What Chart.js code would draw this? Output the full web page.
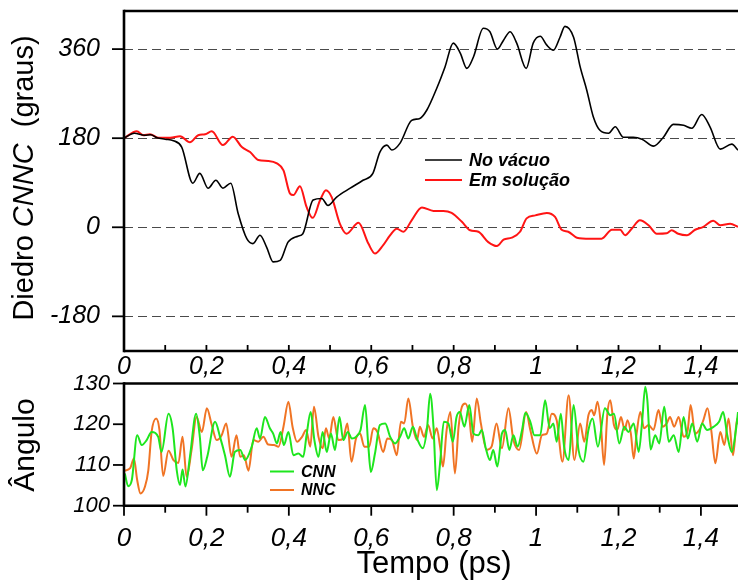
<!DOCTYPE html>
<html><head><meta charset="utf-8">
<script src="https://cdn.jsdelivr.net/npm/chart.js@4/dist/chart.umd.min.js"></script>
<style>
html,body{margin:0;padding:0;background:#fff;}
#wrap{position:relative;width:738px;height:581px;overflow:hidden;background:#fff;}
#c1{position:absolute;left:0;top:0;}
#c2{position:absolute;left:0;top:370px;}
</style></head><body>
<div id="wrap"><canvas id="c1" width="738" height="383"></canvas><canvas id="c2" width="738" height="211"></canvas></div>
<script>
// ---- Top panel: dihedral CNNC (graus) ----
const vacTime=[0,0.025,0.05,0.065,0.08,0.1,0.12,0.14,0.167,0.184,0.204,0.223,0.24,0.259,0.277,0.298,0.313,0.33,0.346,0.362,0.379,0.398,0.422,0.434,0.459,0.48,0.495,0.516,0.549,0.58,0.604,0.621,0.638,0.65,0.67,0.698,0.718,0.735,0.759,0.779,0.799,0.816,0.832,0.848,0.872,0.888,0.906,0.921,0.937,0.953,0.976,0.993,1.01,1.026,1.042,1.058,1.07,1.091,1.107,1.123,1.139,1.155,1.176,1.192,1.212,1.236,1.257,1.285,1.309,1.333,1.358,1.378,1.402,1.422,1.447,1.475,1.49];
const vacDeg=[180,190,186,187,181,178,175,162,89,109,79,95,79,89,28,-23,-33,-16,-40,-70,-67,-30,-18,-13,55,58,44,61,79,95,109,152,166,156,170,216,220,237,281,324,372,352,321,344,402,395,360,378,395,372,321,372,386,368,358,384,406,384,324,277,223,196,190,203,182,182,178,164,182,208,206,200,228,203,158,168,156];
const solTime=[0,0.031,0.047,0.063,0.083,0.112,0.136,0.16,0.18,0.197,0.213,0.24,0.264,0.286,0.306,0.326,0.35,0.371,0.387,0.403,0.411,0.427,0.443,0.458,0.476,0.49,0.504,0.524,0.54,0.569,0.593,0.609,0.629,0.646,0.662,0.678,0.698,0.723,0.751,0.775,0.795,0.82,0.84,0.86,0.884,0.905,0.921,0.941,0.961,0.977,0.998,1.026,1.046,1.062,1.078,1.099,1.131,1.159,1.184,1.204,1.216,1.232,1.252,1.273,1.293,1.317,1.329,1.345,1.366,1.386,1.406,1.43,1.447,1.471,1.49];
const solDeg=[180,194,186,188,181,181,184,172,186,188,194,166,183,162,152,136,134,129,115,68,65,83,41,19,55,75,61,7,-13,9,-33,-53,-36,-16,-3,-9,14,40,33,33,29,11,-6,-9,-30,-38,-25,-21,-9,18,24,29,21,-5,-9,-21,-23,-23,-5,-5,-16,-3,14,4,-13,-12,-6,-13,-16,-5,1,13,4,7,1];

// ---- Bottom panel: angles (graus) ----
const cnnTime=[0.002,0.01,0.019,0.032,0.043,0.055,0.067,0.083,0.091,0.108,0.118,0.128,0.136,0.142,0.149,0.16,0.175,0.184,0.191,0.202,0.221,0.233,0.245,0.257,0.269,0.282,0.294,0.31,0.322,0.33,0.342,0.354,0.362,0.371,0.38,0.388,0.399,0.411,0.423,0.435,0.443,0.453,0.462,0.472,0.482,0.492,0.502,0.512,0.523,0.532,0.543,0.553,0.563,0.574,0.585,0.593,0.599,0.609,0.621,0.634,0.646,0.658,0.67,0.68,0.69,0.701,0.711,0.725,0.735,0.743,0.751,0.759,0.767,0.776,0.787,0.798,0.807,0.815,0.826,0.838,0.848,0.86,0.868,0.878,0.888,0.896,0.906,0.917,0.925,0.935,0.945,0.955,0.966,0.974,0.986,0.996,1.01,1.022,1.033,1.042,1.05,1.06,1.068,1.079,1.091,1.103,1.115,1.127,1.137,1.15,1.167,1.18,1.189,1.202,1.214,1.224,1.237,1.249,1.257,1.265,1.27,1.278,1.289,1.299,1.311,1.322,1.334,1.346,1.358,1.368,1.379,1.391,1.403,1.415,1.431,1.444,1.454,1.464,1.475,1.485,1.49];
const cnnAng=[107.9,104.8,106.3,117.3,114.9,116.1,118.1,116.9,113.2,122.6,119,108.7,105.1,108.9,104.7,112,122.6,116.9,108.7,112,120.6,116.9,112.4,107.1,113.2,113.7,111.2,114.5,119,116.5,121.8,119,117.7,115.3,118.1,114.9,118.1,112.4,112.8,112,117.3,123,116.1,112,118.1,113.2,117.7,113.7,121.8,116.1,118.1,116.5,116.9,118.6,124.7,114.5,108.3,112.8,119.8,120.2,116.9,115.3,116.9,119,116.5,119.4,116.5,114.1,118.6,127.5,119.4,103.8,110.4,120.6,120.2,115.7,121.8,123,119.4,124.7,117.7,117.3,118.6,114.1,111.2,113.7,109.6,117.7,118.6,113.7,117.3,114.5,118.6,122.8,120.6,117.3,117.3,125.9,119,120.2,115.7,122.6,114.5,111.2,124.7,113.7,110.8,118.6,121.4,114.5,123.9,122.2,122.6,115.3,119.4,118.1,120.2,113.2,120.2,129.2,125.9,113.8,117.3,115.3,124.3,115.7,117.3,113.2,121.8,116.5,120.2,115.7,120.2,118.6,119.4,120.6,123,117.3,113.2,118.6,123];
const nncTime=[0.002,0.015,0.024,0.032,0.04,0.051,0.059,0.067,0.078,0.086,0.095,0.108,0.12,0.132,0.142,0.152,0.164,0.176,0.189,0.201,0.213,0.225,0.237,0.248,0.261,0.273,0.282,0.291,0.302,0.314,0.326,0.338,0.35,0.364,0.375,0.387,0.399,0.409,0.42,0.432,0.442,0.452,0.461,0.472,0.482,0.49,0.498,0.508,0.52,0.532,0.542,0.552,0.563,0.573,0.583,0.595,0.605,0.615,0.629,0.639,0.65,0.662,0.672,0.68,0.69,0.701,0.711,0.718,0.728,0.738,0.749,0.759,0.767,0.774,0.783,0.792,0.803,0.812,0.82,0.828,0.837,0.845,0.856,0.866,0.88,0.892,0.904,0.917,0.933,0.945,0.959,0.976,0.986,1.002,1.014,1.026,1.038,1.05,1.064,1.079,1.093,1.107,1.117,1.127,1.135,1.141,1.149,1.157,1.165,1.173,1.18,1.189,1.197,1.206,1.215,1.222,1.23,1.237,1.244,1.253,1.262,1.273,1.285,1.297,1.307,1.317,1.325,1.335,1.346,1.358,1.368,1.375,1.386,1.396,1.406,1.416,1.425,1.435,1.447,1.457,1.467,1.478,1.488,1.49];
const nncAng=[108.6,109.2,111.6,106.3,103,104.7,108.7,118.1,121.4,118.6,107.3,113.5,111.2,110.5,116.9,107.1,113.7,121.8,118.1,123.9,119.8,116.1,117.3,120.2,112,117.3,112,112.4,108.6,116.1,115.7,116.9,115,114.9,114.5,119.4,125.5,119.4,115.7,116.9,118.6,114.5,124.3,116.9,114.1,119,116.5,121.8,116.1,116.5,120.2,110.8,116.5,117.7,114.5,114.5,119,118.1,113.2,116.5,116.1,112.4,120.6,120.2,126.3,119.4,116.1,119.4,116.9,119.8,116.5,119,114.5,109.6,118.6,123,107.9,119.4,124.3,125.1,122.6,115.7,126.3,120.2,113.7,114.5,120.2,114.1,123.9,116.1,113.7,123,118.6,112.8,117.3,117.7,122.6,121,110.8,127.1,111.2,120.2,115.7,122.2,123.5,122.2,125.5,120.2,110,122.6,125.9,119.8,118.6,121.8,118.6,121,117.7,111.6,117.7,123,119,119.8,118.6,123.5,119.4,120.2,121.8,119.4,121.8,116.9,118.6,124.7,117.7,118.6,121,123.9,118.6,110.4,118.1,114.9,121.4,112.4,121.4,120];

// ---- Ticks ----
const timeTicks=[0,0.1,0.2,0.3,0.4,0.5,0.6,0.7,0.8,0.9,1,1.1,1.2,1.3,1.4];
const timeLabels=['0','','0,2','','0,4','','0,6','','0,8','','1','','1,2','','1,4'];
const diedroTicks=[-180,0,180,360];
const diedroLabels=['-180','0','180','360'];
const anguloTicks=[100,105,110,115,120,125,130];
const anguloLabels=['100','','110','','120','','130'];

const FONT='"Liberation Sans", Arial, Helvetica, sans-serif';
function pts(xs,ys){return xs.map((x,i)=>({x:x,y:ys[i]}));}

const panel={
  id:'panel',
  beforeDatasetsDraw(chart,args,o){
    if(!o.dashed) return;
    const ctx=chart.ctx, a=chart.chartArea, y=chart.scales.y;
    ctx.save(); ctx.strokeStyle='#4a4a4a'; ctx.lineWidth=1.2; ctx.setLineDash([9,5]);
    o.dashed.forEach(v=>{const p=Math.round(y.getPixelForValue(v))+0.5;ctx.beginPath();ctx.moveTo(a.left,p);ctx.lineTo(a.right,p);ctx.stroke();});
    ctx.restore();
  },
  afterDatasetsDraw(chart,args,o){
    const ctx=chart.ctx, a=chart.chartArea, x=chart.scales.x, y=chart.scales.y;
    ctx.save(); ctx.strokeStyle='#000'; ctx.lineCap='butt';
    ctx.lineWidth=1.8;
    x.ticks.forEach(t=>{const px=x.getPixelForValue(t.value);const len=(t.label!=='')?o.xMajor:o.xMinor;ctx.beginPath();ctx.moveTo(px,a.bottom);ctx.lineTo(px,a.bottom+o.xDir*len);ctx.stroke();});
    y.ticks.forEach(t=>{const py=y.getPixelForValue(t.value);const len=(t.label!=='')?o.yMajor:o.yMinor;ctx.beginPath();ctx.moveTo(a.left,py);ctx.lineTo(a.left-len,py);ctx.stroke();});
    ctx.lineWidth=2.6;
    ctx.beginPath();ctx.moveTo(a.left,a.top-1.3);ctx.lineTo(a.left,a.bottom+1.3);ctx.stroke();
    ctx.beginPath();ctx.moveTo(a.left,a.top);ctx.lineTo(a.right,a.top);ctx.stroke();
    ctx.beginPath();ctx.moveTo(a.left,a.bottom);ctx.lineTo(a.right,a.bottom);ctx.stroke();
    // legend
    if(o.legend){
      ctx.font='italic bold '+o.legend.size+'px '+FONT; ctx.textBaseline='middle'; ctx.textAlign='left'; ctx.fillStyle='#000';
      chart.data.datasets.forEach((d,i)=>{const yy=o.legend.y[i];ctx.strokeStyle=d.borderColor;ctx.lineWidth=d.borderWidth;ctx.beginPath();ctx.moveTo(o.legend.x1,yy);ctx.lineTo(o.legend.x2,yy);ctx.stroke();ctx.fillText(d.label,o.legend.tx,yy+1);});
    }
    // y title
    if(o.ytitle){
      const t=o.ytitle; ctx.save(); ctx.translate(t.x,t.y); ctx.rotate(-Math.PI/2); ctx.fillStyle='#000'; ctx.textBaseline='alphabetic'; ctx.textAlign='left';
      let w=0; t.parts.forEach(p=>{ctx.font=p.style+' '+t.size+'px '+FONT;w+=ctx.measureText(p.text).width;});
      let cx=-w/2; t.parts.forEach(p=>{ctx.font=p.style+' '+t.size+'px '+FONT;ctx.fillText(p.text,cx,0);cx+=ctx.measureText(p.text).width;});
      ctx.restore();
    }
    if(o.xtitle){
      const t=o.xtitle; ctx.fillStyle='#000'; ctx.font='normal '+t.size+'px '+FONT; ctx.textAlign='center'; ctx.textBaseline='alphabetic'; ctx.fillText(t.text,t.x,t.y);
    }
    ctx.restore();
  }
};

function xScale(pad,size,h){
  return {type:'linear',min:0,max:1.49,grid:{display:false,drawTicks:false},border:{display:false},
    afterBuildTicks:s=>{s.ticks=timeTicks.map(v=>({value:v}));},
    ticks:{autoSkip:false,maxRotation:0,minRotation:0,padding:pad,color:'#000',font:{family:FONT,size:size,style:'italic'},callback:(v,i)=>timeLabels[i]},
    afterFit:s=>{s.height=h;s.paddingLeft=0;s.paddingRight=0;}};
}

new Chart(document.getElementById('c1'),{
  type:'line',
  data:{datasets:[
    {label:'No vácuo',data:pts(vacTime,vacDeg),borderColor:'#000000',borderWidth:1.6,pointRadius:0,tension:0.4,cubicInterpolationMode:'monotone'},
    {label:'Em solução',data:pts(solTime,solDeg),borderColor:'#ff1414',borderWidth:2,pointRadius:0,tension:0.4,cubicInterpolationMode:'monotone'}
  ]},
  options:{responsive:false,animation:false,events:[],
    layout:{padding:{top:11,right:0,left:0,bottom:0}},
    plugins:{legend:{display:false},tooltip:{enabled:false},
      panel:{dashed:diedroTicks,xDir:-1,xMajor:6,xMinor:6,yMajor:12,yMinor:12,
        legend:{size:18,x1:425,x2:462,tx:469,y:[160,180]},
        ytitle:{x:33,y:178,size:29,parts:[{text:'Diedro ',style:'normal'},{text:'CNNC',style:'italic'},{text:'\u00a0\u00a0(graus)',style:'normal'}]}}},
    scales:{
      x:xScale(1,25,32),
      y:{min:-250,max:437,grid:{display:false,drawTicks:false},border:{display:false},
        afterBuildTicks:s=>{s.ticks=diedroTicks.map(v=>({value:v}));},
        ticks:{padding:24,color:'#000',font:{family:FONT,size:25,style:'italic'},callback:(v,i)=>diedroLabels[i]},
        afterFit:s=>{s.width=124;s.paddingTop=0;s.paddingBottom=0;}}
    }
  },
  plugins:[panel]
});

new Chart(document.getElementById('c2'),{
  type:'line',
  data:{datasets:[
    {label:'CNN',data:pts(cnnTime,cnnAng),borderColor:'#1ee61e',borderWidth:2,pointRadius:0,tension:0.4,cubicInterpolationMode:'monotone'},
    {label:'NNC',data:pts(nncTime,nncAng),borderColor:'#f07424',borderWidth:2,pointRadius:0,tension:0.4,cubicInterpolationMode:'monotone'}
  ]},
  options:{responsive:false,animation:false,events:[],
    layout:{padding:{top:13.5,right:0,left:0,bottom:0}},
    plugins:{legend:{display:false},tooltip:{enabled:false},
      panel:{xDir:1,xMajor:10,xMinor:7,yMajor:11,yMinor:11,
        legend:{size:16,x1:270,x2:294,tx:301,y:[101.5,120]},
        ytitle:{x:34,y:75,size:30,parts:[{text:'Ângulo',style:'normal'}]},
        xtitle:{x:434,y:203,size:31,text:'Tempo (ps)'}}},
    scales:{
      x:xScale(17,26,75.3),
      y:{min:100,max:130,grid:{display:false,drawTicks:false},border:{display:false},
        afterBuildTicks:s=>{s.ticks=anguloTicks.map(v=>({value:v}));},
        ticks:{padding:14,color:'#000',font:{family:FONT,size:22,style:'italic'},callback:(v,i)=>anguloLabels[i]},
        afterFit:s=>{s.width=124;s.paddingTop=0;s.paddingBottom=0;}}
    }
  },
  plugins:[panel]
});
</script>
</body></html>
